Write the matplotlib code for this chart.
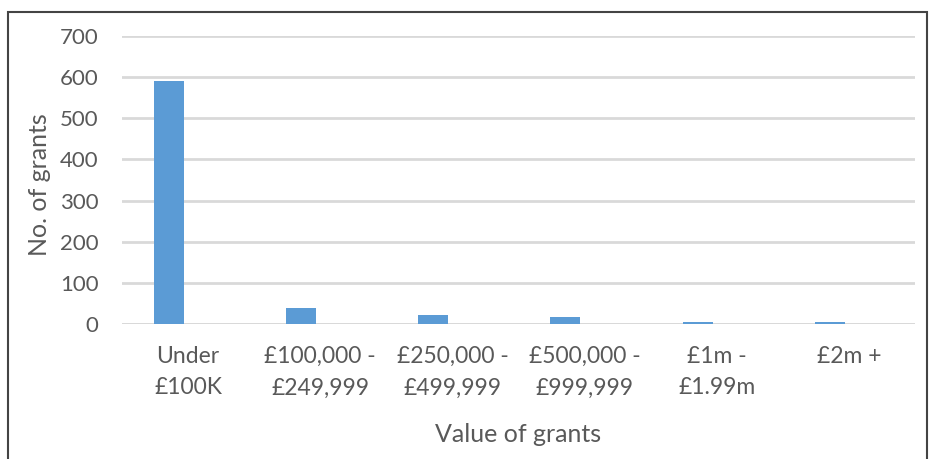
import matplotlib
matplotlib.use("Agg")
from matplotlib import pyplot as plt
import matplotlib.patches as mpatches
import numpy as np

categories = ['Under\n£100K', '£100,000 -\n£249,999', '£250,000 -\n£499,999',
              '£500,000 -\n£999,999', '£1m -\n£1.99m', '£2m +']
grants = [591, 38, 22, 16, 6, 6]
yticks = [0, 100, 200, 300, 400, 500, 600, 700]

plt.rcParams['font.family'] = ['Lato', 'DejaVu Sans']
grey = '#595959'

fig = plt.figure(figsize=(9.3, 4.59), dpi=100)
ax = fig.add_axes([122/930, 1 - 324/459, (915 - 122)/930, (324 - 36)/459])

x = np.arange(len(categories))
ax.bar(x - 0.145, grants, width=0.227, color='#5B9BD5', zorder=3)

ax.set_xlim(-0.5, len(categories) - 0.5)
ax.set_ylim(0, 700)
ax.set_yticks(yticks)
ax.yaxis.grid(True, color='#D9D9D9', linewidth=2, zorder=0)
for s in ax.spines.values():
    s.set_visible(False)
ax.axhline(0, color='#D9D9D9', linewidth=2, zorder=1)
ax.tick_params(axis='both', length=0, colors=grey)
ax.tick_params(axis='y', pad=17, labelsize=16)
ax.tick_params(axis='x', pad=16, labelsize=16.5)
ax.set_xticks(x)
ax.set_xticklabels(categories, linespacing=1.6)

ax.set_xlabel('Value of grants', color=grey, fontsize=18, va='top')
ax.xaxis.set_label_coords(0.5, -0.345)
ax.set_ylabel('No. of grants', color=grey, fontsize=18)
ax.yaxis.set_label_coords(-0.09, 0.483)

# outer chart frame
frame = mpatches.Rectangle((8/930, -0.1), (927 - 8)/930, 1.1 - 12/459,
                           transform=fig.transFigure, fill=False,
                           edgecolor='#444444', linewidth=1.5)
fig.patches.append(frame)

fig.savefig('out.png', dpi=100)
